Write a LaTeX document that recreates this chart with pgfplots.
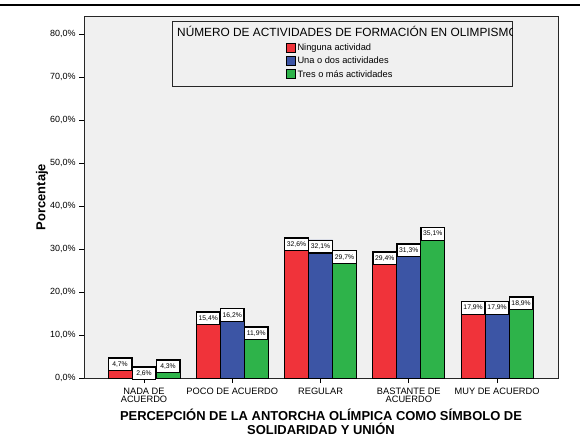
\documentclass[border=0pt]{standalone}
\usepackage{pgfplots}
\pgfplotsset{compat=1.18}
\usepackage{fontspec}
\setmainfont{Liberation Sans}
\definecolor{cred}{RGB}{240,51,58}
\definecolor{cblue}{RGB}{60,85,165}
\definecolor{cgreen}{RGB}{46,179,74}
\definecolor{bggray}{RGB}{240,240,240}
\begin{document}
\begin{tikzpicture}
\useasboundingbox (0bp,0bp) rectangle (580bp,-442bp);
\fill[black] (0bp,-3.5bp) rectangle (580bp,-6bp);
\begin{axis}[
  at={(84bp,-378bp)}, anchor=south west,
  scale only axis, width=474bp, height=362bp,
  xmin=-0.68, xmax=4.69, ymin=0, ymax=84.2,
  axis background/.style={fill=bggray},
  axis line style={line width=0.8bp, black!85},
  xtick={0,1,2,3,4},
  xticklabels={{NADA DE\\ACUERDO},{POCO DE ACUERDO},{REGULAR},{BASTANTE DE\\ACUERDO},{MUY DE ACUERDO}},
  xticklabel style={align=center, font=\fontsize{9.3}{8.8}\selectfont, inner sep=1bp, yshift=-3.5bp},
  ytick={0,10,...,80},
  yticklabel={\pgfmathprintnumber[fixed,fixed zerofill,precision=1,use comma]{\tick}\%},
  yticklabel style={font=\fontsize{9}{10}\selectfont},
  tick align=outside, tick pos=left, major tick length=5bp,
  tick style={line width=0.8bp, black},
  /pgf/number format/assume math mode=true,
  ylabel={Porcentaje},
  every axis y label/.style={at={(axis description cs:-0.0886,0.5)}, rotate=90, anchor=center, font=\bfseries\fontsize{13}{14}\selectfont},
  xlabel={PERCEPCIÓN DE LA ANTORCHA OLÍMPICA COMO SÍMBOLO DE\\SOLIDARIDAD Y UNIÓN},
  every axis x label/.style={at={(axis description cs:0.5,0)}, anchor=north, yshift=-31bp, align=center, inner sep=0pt, font=\bfseries\fontsize{13}{13.5}\selectfont},
  ybar, bar width=24bp,
  nodes near coords={\pgfmathprintnumber[fixed,fixed zerofill,precision=1,use comma]{\pgfplotspointmeta}\%},
  every node near coord/.append style={anchor=north, fill=white, draw=black, line width=1.1bp, minimum width=23.5bp, minimum height=12.5bp, inner sep=0pt, text=black, font=\fontsize{6.8}{7}\selectfont},
  legend image code/.code={\draw[#1,draw=black,line width=0.8bp] (0bp,-4.5bp) rectangle (9bp,4.5bp);},
  legend style={at={(0.4262,0.928)}, anchor=north west, draw=none, fill=none, font=\fontsize{9.3}{11}\selectfont, row sep=2bp, inner sep=0pt, nodes={inner sep=1.5bp}, cells={anchor=west}},
]
\addplot[fill=cred, draw=black, line width=0.8bp, bar shift=-24bp] coordinates {(0,4.7) (1,15.4) (2,32.6) (3,29.4) (4,17.9)};
\addplot[fill=cblue, draw=black, line width=0.8bp, bar shift=0bp] coordinates {(0,2.6) (1,16.2) (2,32.1) (3,31.3) (4,17.9)};
\addplot[fill=cgreen, draw=black, line width=0.8bp, bar shift=24bp] coordinates {(0,4.3) (1,11.9) (2,29.7) (3,35.1) (4,18.9)};
\legend{Ninguna actividad, Una o dos actividades, Tres o más actividades}
\end{axis}
\draw[line width=0.9bp, black!85] (172bp,-21bp) rectangle (512bp,-86bp);
\begin{scope}
\clip (172bp,-21bp) rectangle (512bp,-86bp);
\node[anchor=west, font=\fontsize{11.9}{12}\selectfont, inner sep=0pt] at (177bp,-31bp) {NÚMERO DE ACTIVIDADES DE FORMACIÓN EN OLIMPISMO};
\end{scope}
\end{tikzpicture}
\end{document}
